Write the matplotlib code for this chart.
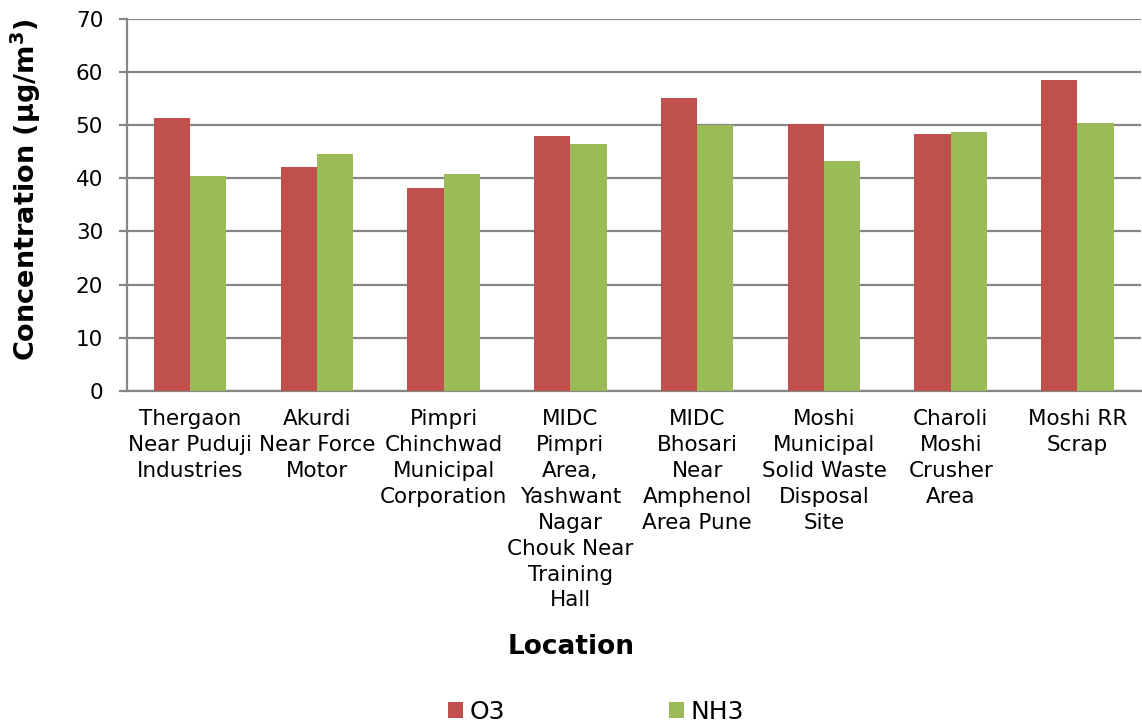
import matplotlib
matplotlib.use("Agg")
import matplotlib.pyplot as plt
import numpy as np

locations = [
    "Thergaon\nNear Puduji\nIndustries",
    "Akurdi\nNear Force\nMotor",
    "Pimpri\nChinchwad\nMunicipal\nCorporation",
    "MIDC\nPimpri\nArea,\nYashwant\nNagar\nChouk Near\nTraining\nHall",
    "MIDC\nBhosari\nNear\nAmphenol\nArea Pune",
    "Moshi\nMunicipal\nSolid Waste\nDisposal\nSite",
    "Charoli\nMoshi\nCrusher\nArea",
    "Moshi RR\nScrap",
]
o3 = [51.3, 42.2, 38.1, 48.0, 55.2, 50.3, 48.4, 58.5]
nh3 = [40.4, 44.6, 40.8, 46.4, 50.0, 43.3, 48.7, 50.4]
y_ticks = [0, 10, 20, 30, 40, 50, 60, 70]

plt.rcParams['font.family'] = ['DejaVu Sans']

fig = plt.figure(figsize=(11.42, 7.24), dpi=100)
ax = fig.add_axes([0.111, 0.46, 0.888, 0.514])

x = np.arange(len(locations))
w = 1 / 3.5
ax.bar(x - w / 2, o3, width=w, color="#C0504D", label="O3", zorder=3)
ax.bar(x + w / 2, nh3, width=w, color="#9BBB59", label="NH3", zorder=3)

ax.set_xlim(-0.5, len(locations) - 0.5)
ax.set_ylim(0, 70)
ax.set_yticks(y_ticks)
ax.yaxis.grid(True, color="#868686", linewidth=1.6, zorder=0)
ax.set_axisbelow(True)

for side in ["top", "right"]:
    ax.spines[side].set_visible(False)
for side in ["left", "bottom"]:
    ax.spines[side].set_color("#868686")
    ax.spines[side].set_linewidth(1.6)

ax.tick_params(axis="y", length=6, width=1.6, color="#868686", labelsize=15.5, pad=11)
ax.tick_params(axis="x", length=0, labelsize=15.5, pad=13)
ax.set_xticks(x)
ax.set_xticklabels(locations, linespacing=1.37, va="top")

ax.set_ylabel("Concentration (µg/m$^\\mathbf{3}$)", fontsize=19.5, fontweight="bold")
ax.yaxis.set_label_coords(-0.083, 0.54)
fig.text(0.5, 0.107, "Location", ha="center", va="center", fontsize=19, fontweight="bold")

leg = fig.legend(loc="center", bbox_to_anchor=(0.522, 0.017), ncol=2, frameon=False,
                 fontsize=18, handlelength=0.6, handleheight=0.6, handletextpad=0.25,
                 columnspacing=6.55)

fig.savefig("out.png", dpi=100)
